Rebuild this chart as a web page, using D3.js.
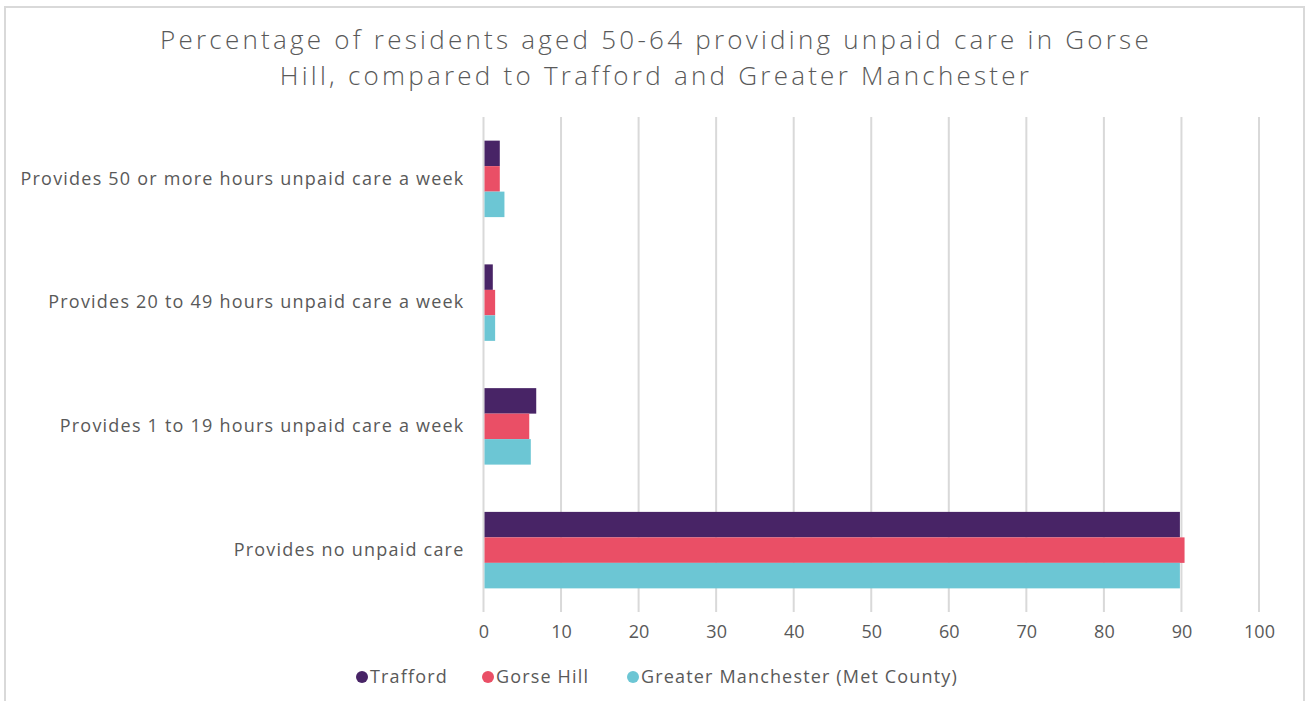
<!DOCTYPE html>
<html>
<head>
<meta charset="utf-8">
<script src="https://cdn.jsdelivr.net/npm/d3@7"></script>
<style>
  html, body { margin: 0; padding: 0; background: #fff; }
  svg { display: block; }
  text { font-family: "Open Sans", Lato, sans-serif; fill: #595959; }
</style>
</head>
<body>
<svg id="chart" width="1307" height="701"></svg>
<script>
// Care categories, top to bottom
const categories = [
  "Provides 50 or more hours unpaid care a week",
  "Provides 20 to 49 hours unpaid care a week",
  "Provides 1 to 19 hours unpaid care a week",
  "Provides no unpaid care"
];
const seriesNames = ["Trafford", "Gorse Hill", "Greater Manchester (Met County)"];
// Percentages per category for each area
const trafford = [2.1, 1.2, 6.8, 89.8];
const gorseHill = [2.1, 1.5, 5.9, 90.4];
const greaterManchester = [2.7, 1.5, 6.1, 89.8];
const xTicks = [0, 10, 20, 30, 40, 50, 60, 70, 80, 90, 100];
const titleLines = [
  "Percentage of residents aged 50-64 providing unpaid care in Gorse",
  "Hill, compared to Trafford and Greater Manchester"
];

const colors = ["#482466", "#ea4f66", "#6cc6d4"];
const seriesValues = [trafford, gorseHill, greaterManchester];

const svg = d3.select("#chart");

// Spread letters of a text selection so that its widest item spans `target` px
function spreadTo(sel, target) {
  let widest = null, w = 0;
  sel.each(function () {
    const l = this.getComputedTextLength();
    if (l > w) { w = l; widest = this; }
  });
  if (!widest) return;
  const n = widest.textContent.length;
  const ls = (target - w) / n;
  sel.style("letter-spacing", ls + "px");
}

// outer frame
svg.append("path")
  .attr("d", "M5,710 L5,7 L1304,7 L1304,710")
  .attr("fill", "none")
  .attr("stroke", "#d9d9d9")
  .attr("stroke-width", 2);

// title, two lines
const titleText = svg.append("g")
  .selectAll("text")
  .data(titleLines)
  .join("text")
  .attr("x", 656)
  .attr("y", (d, i) => 49 + i * 36)
  .attr("text-anchor", "middle")
  .attr("font-size", 26)
  .style("font-weight", 300)
  .text(d => d);
spreadTo(titleText, 992);

const plot = { left: 483.5, right: 1259, top: 117, bottom: 612 };

const x = d3.scaleLinear().domain([0, 100]).range([plot.left, plot.right]);
const y = d3.scaleBand().domain(categories).range([plot.top, plot.bottom])
  .paddingInner(0.382).paddingOuter(0.191);
const ySub = d3.scaleBand().domain(seriesNames).range([0, y.bandwidth()]);

// vertical gridlines
svg.append("g")
  .selectAll("line")
  .data(xTicks)
  .join("line")
  .attr("x1", d => x(d)).attr("x2", d => x(d))
  .attr("y1", plot.top).attr("y2", plot.bottom)
  .attr("stroke", "#d9d9d9")
  .attr("stroke-width", 2);

// bars
const rows = categories.map((c, i) => ({
  category: c,
  values: seriesNames.map((s, j) => ({ series: s, value: seriesValues[j][i], color: colors[j] }))
}));

svg.append("g")
  .selectAll("g")
  .data(rows)
  .join("g")
  .attr("transform", d => `translate(0,${y(d.category)})`)
  .selectAll("rect")
  .data(d => d.values)
  .join("rect")
  .attr("x", x(0) + 1)
  .attr("y", d => ySub(d.series))
  .attr("width", d => x(d.value) - x(0) - 1)
  .attr("height", ySub.bandwidth())
  .attr("fill", d => d.color);

// x axis labels
const xAxis = svg.append("g")
  .attr("transform", `translate(0,${plot.bottom})`)
  .call(d3.axisBottom(x).tickValues(xTicks).tickSize(0).tickPadding(13));
xAxis.select(".domain").remove();
xAxis.selectAll("text")
  .attr("font-size", 18)
  .style("font-family", "'Open Sans', Lato, sans-serif")
  .style("fill", "#595959");

// y axis labels
const yAxis = svg.append("g")
  .attr("transform", `translate(${plot.left},0)`)
  .call(d3.axisLeft(y).tickSize(0).tickPadding(19));
yAxis.select(".domain").remove();
const yLabels = yAxis.selectAll("text")
  .attr("font-size", 18)
  .style("font-family", "'Open Sans', Lato, sans-serif")
  .style("fill", "#595959");
spreadTo(yLabels, 444);

// legend
const legendX = [362, 488, 633];
const legend = svg.append("g")
  .selectAll("g")
  .data(seriesNames)
  .join("g")
  .attr("transform", (d, i) => `translate(${legendX[i]},677)`);
legend.append("circle").attr("r", 6).attr("fill", (d, i) => colors[i]);
const legendText = legend.append("text")
  .attr("x", 8)
  .attr("dy", "0.35em")
  .attr("font-size", 18)
  .text(d => d);
spreadTo(legendText, 317);
</script>
</body>
</html>
